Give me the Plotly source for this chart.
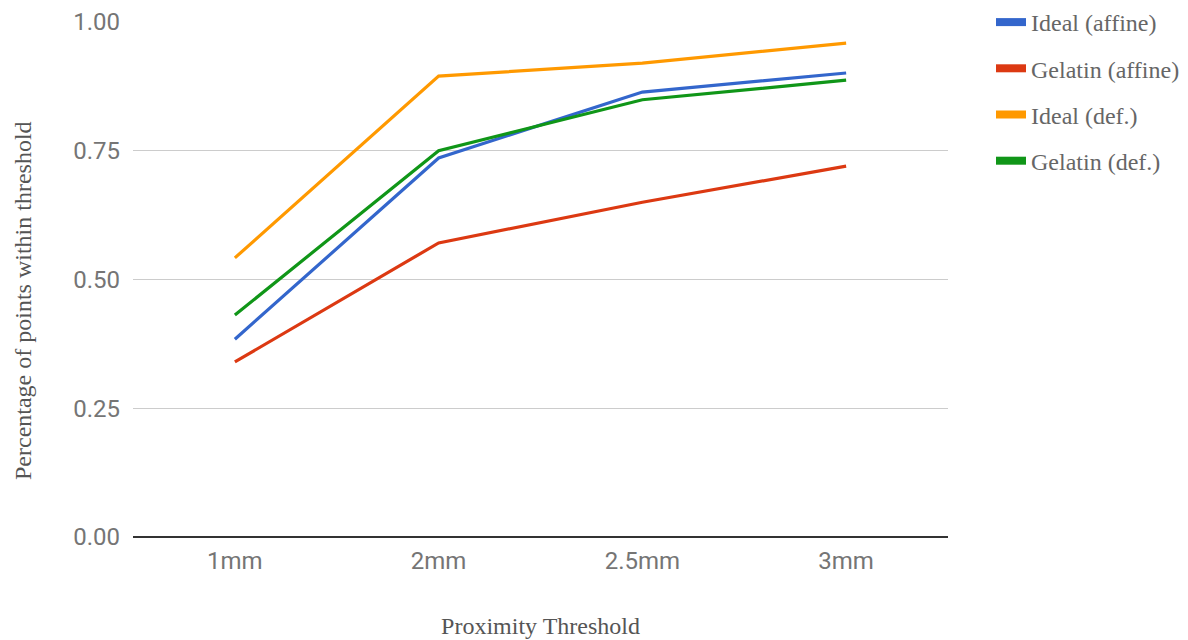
import plotly.graph_objects as go

categories = ["1mm", "2mm", "2.5mm", "3mm"]
series_names = ["Ideal (affine)", "Gelatin (affine)", "Ideal (def.)", "Gelatin (def.)"]
ideal_affine = [0.384, 0.736, 0.864, 0.901]
gelatin_affine = [0.340, 0.571, 0.650, 0.720]
ideal_def = [0.542, 0.895, 0.920, 0.959]
gelatin_def = [0.431, 0.750, 0.849, 0.887]
colors = ["#3366cc", "#dc3912", "#ff9900", "#109618"]
y_ticks = [0, 0.25, 0.5, 0.75, 1.0]
y_tick_labels = ["0.00", "0.25", "0.50", "0.75", "1.00"]

fig = go.Figure()
all_series = [ideal_affine, gelatin_affine, ideal_def, gelatin_def]
for name, vals, c in zip(series_names, all_series, colors):
    fig.add_trace(go.Scatter(x=categories, y=vals, mode="lines", name=name,
                             line=dict(color=c, width=3.2), showlegend=False,
                             hoverinfo="x+y+name"))
for name, c in zip(series_names, colors):
    fig.add_trace(go.Scatter(x=[None], y=[None], mode="lines", name=name,
                             legendgroup=name,
                             line=dict(color=c, width=8), showlegend=True))

serif = "Liberation Serif"
fig.update_layout(
    width=1188, height=640,
    margin=dict(l=133, r=240, t=22, b=103, autoexpand=False),
    plot_bgcolor="white", paper_bgcolor="white",
    legend=dict(xref="container", yref="container", x=991/1188, y=1.0,
                xanchor="left", yanchor="top",
                font=dict(family=serif, size=24, color="#666666"),
                tracegroupgap=12, itemwidth=30),
    xaxis=dict(type="category", range=[-0.5, 3.5], showgrid=False,
               tickfont=dict(family="Roboto", size=24, color="#757575"),
               ticks="", showline=False, zeroline=False, ticklabelstandoff=7,
               title=dict(text="Proximity Threshold", standoff=43,
                          font=dict(family=serif, size=24, color="#555555"))),
    yaxis=dict(range=[0, 1.0], tickvals=y_ticks, ticktext=y_tick_labels,
               showgrid=True, gridcolor="#cccccc", gridwidth=1.3,
               zeroline=True, zerolinecolor="#333333", zerolinewidth=2,
               tickfont=dict(family="Roboto", size=24, color="#757575"),
               ticks="", ticklabelstandoff=12),
    annotations=[dict(text="Percentage of points within threshold",
                      xref="paper", yref="paper", x=(23 - 133) / 815, y=(537 - 301) / 515,
                      xanchor="center", yanchor="middle", textangle=-90, showarrow=False,
                      font=dict(family=serif, size=24, color="#555555"))],
)
fig.write_html("out.html")
